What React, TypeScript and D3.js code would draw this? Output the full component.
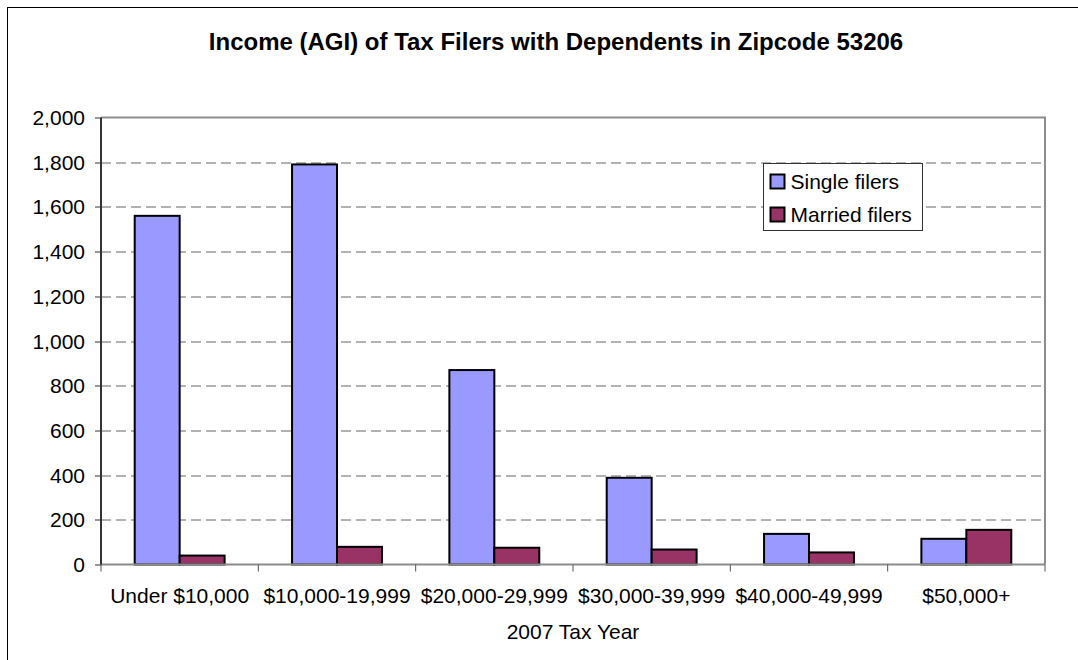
import * as d3 from 'd3';
import React, { useEffect, useRef } from 'react';

const categories = ['Under $10,000', '$10,000-19,999', '$20,000-29,999', '$30,000-39,999', '$40,000-49,999', '$50,000+'];
const seriesNames = ['Single filers', 'Married filers'];
const singleFilers = [1560, 1790, 870, 388, 137, 115];
const marriedFilers = [40, 79, 75, 67, 54, 155];
const yTicks = [0, 200, 400, 600, 800, 1000, 1200, 1400, 1600, 1800, 2000];
const colors = ['#9999FF', '#993366'];

const width = 1078;
const height = 660;
const font = 'Liberation Sans, Arial, sans-serif';

const App: React.FC = () => {
  const svgRef = useRef<SVGSVGElement>(null);

  useEffect(() => {
    if (!svgRef.current) return;
    const svg = d3.select(svgRef.current);
    svg.selectAll('*').remove();

    const margin = { top: 117.5, right: 33, bottom: 95.5, left: 101 };
    const innerWidth = width - margin.left - margin.right;
    const innerHeight = height - margin.top - margin.bottom;

    svg.append('rect')
      .attr('width', width).attr('height', height).attr('fill', '#fff');

    // outer chart border
    svg.append('rect')
      .attr('x', 7.5).attr('y', 7.5)
      .attr('width', width + 20).attr('height', height + 20)
      .attr('fill', 'none').attr('stroke', '#000').attr('stroke-width', 1);

    const g = svg.append('g')
      .attr('transform', `translate(${margin.left}, ${margin.top})`);

    const x0 = d3.scaleBand().domain(categories).range([0, innerWidth]).padding(0);
    const x1 = d3.scaleBand().domain(seriesNames).range([0, x0.bandwidth()])
      .paddingInner(0).paddingOuter(0.75);
    const y = d3.scaleLinear().domain([0, 2000]).range([innerHeight, 0]);

    // gridlines
    g.selectAll('line.grid')
      .data(yTicks.filter(t => t > 0 && t < 2000))
      .join('line')
      .attr('class', 'grid')
      .attr('x1', 0).attr('x2', innerWidth)
      .attr('y1', d => Math.round(y(d)) + 0.5).attr('y2', d => Math.round(y(d)) + 0.5)
      .attr('stroke', '#666').attr('stroke-width', 1)
      .attr('stroke-dasharray', '10,5');

    // plot frame top & right
    g.append('path')
      .attr('d', `M0,${y(2000)}H${innerWidth}V${innerHeight}`)
      .attr('fill', 'none').attr('stroke', '#8c8c8c').attr('stroke-width', 2);

    // bars
    const rows = categories.map((c, i) => ({ c, vals: [singleFilers[i], marriedFilers[i]] }));
    const groups = g.selectAll('g.cat')
      .data(rows)
      .join('g')
      .attr('class', 'cat')
      .attr('transform', d => `translate(${x0(d.c)}, 0)`);

    groups.selectAll('rect')
      .data(d => d.vals.map((v, i) => ({ name: seriesNames[i], v, i })))
      .join('rect')
      .attr('x', d => x1(d.name) || 0)
      .attr('y', d => y(d.v))
      .attr('width', x1.bandwidth())
      .attr('height', d => innerHeight - y(d.v))
      .attr('fill', d => colors[d.i])
      .attr('stroke', '#000')
      .attr('stroke-width', 2);

    // x axis
    const xAxis = g.append('g').attr('transform', `translate(0, ${innerHeight})`);
    xAxis.append('line')
      .attr('x1', 0).attr('x2', innerWidth)
      .attr('stroke', '#8c8c8c').attr('stroke-width', 2);
    const bounds = [0, ...categories.map(c => (x0(c) || 0) + x0.bandwidth())];
    xAxis.selectAll('line.tick')
      .data(bounds)
      .join('line')
      .attr('class', 'tick')
      .attr('x1', d => d).attr('x2', d => d)
      .attr('y1', 0).attr('y2', 7)
      .attr('stroke', '#555').attr('stroke-width', 1);
    xAxis.selectAll('text')
      .data(categories)
      .join('text')
      .attr('x', d => (x0(d) || 0) + x0.bandwidth() / 2)
      .attr('y', 38)
      .attr('text-anchor', 'middle')
      .attr('font-family', font)
      .attr('font-size', '21px')
      .attr('fill', '#000')
      .text(d => d);

    // y axis
    const yAxis = g.append('g');
    yAxis.append('line')
      .attr('y1', 0).attr('y2', innerHeight)
      .attr('stroke', '#333').attr('stroke-width', 2);
    yAxis.selectAll('line.tick')
      .data(yTicks)
      .join('line')
      .attr('class', 'tick')
      .attr('x1', -6).attr('x2', 0)
      .attr('y1', d => Math.round(y(d)) + 0.5).attr('y2', d => Math.round(y(d)) + 0.5)
      .attr('stroke', '#333').attr('stroke-width', 1);
    yAxis.selectAll('text')
      .data(yTicks)
      .join('text')
      .attr('x', -16)
      .attr('y', d => y(d))
      .attr('dy', '0.36em')
      .attr('text-anchor', 'end')
      .attr('font-family', font)
      .attr('font-size', '21px')
      .attr('fill', '#000')
      .text(d => d3.format(',')(d));

    // legend
    const legend = svg.append('g').attr('transform', 'translate(763.5, 163.5)');
    legend.append('rect')
      .attr('width', 159).attr('height', 67)
      .attr('fill', '#fff').attr('stroke', '#333').attr('stroke-width', 1);
    seriesNames.forEach((name, i) => {
      const item = legend.append('g').attr('transform', `translate(7, ${11 + i * 33})`);
      item.append('rect')
        .attr('width', 14).attr('height', 14)
        .attr('fill', colors[i]).attr('stroke', '#000').attr('stroke-width', 2);
      item.append('text')
        .attr('x', 20).attr('y', 14)
        .attr('font-family', font)
        .attr('font-size', '21px')
        .attr('fill', '#000')
        .text(name);
    });

    // title
    svg.append('text')
      .attr('x', 556)
      .attr('y', 50)
      .attr('text-anchor', 'middle')
      .attr('font-family', font)
      .attr('font-size', '24px')
      .attr('font-weight', 'bold')
      .attr('fill', '#000')
      .text('Income (AGI) of Tax Filers with Dependents in Zipcode 53206');

    // x axis label
    svg.append('text')
      .attr('x', margin.left + innerWidth / 2)
      .attr('y', 639)
      .attr('text-anchor', 'middle')
      .attr('font-family', font)
      .attr('font-size', '21px')
      .attr('fill', '#000')
      .text('2007 Tax Year');
  }, []);

  return (
    <svg
      ref={svgRef}
      width={width}
      height={height}
      style={{ position: 'absolute', left: 0, top: 0, display: 'block' }}
    />
  );
};

export default App;
